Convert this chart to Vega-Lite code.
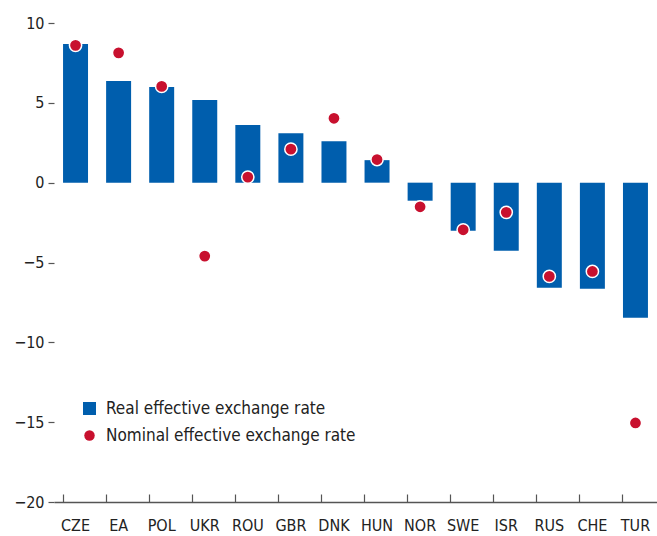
{
  "$schema": "https://vega.github.io/schema/vega-lite/v6.json",
  "width": 603,
  "height": 479,
  "autosize": {"type": "none"},
  "padding": {"left": 54, "top": 23, "right": 0, "bottom": 34},
  "background": "white",
  "config": {
    "view": {"stroke": null},
    "font": "DejaVu Sans Condensed, Liberation Sans, sans-serif",
    "axis": {"grid": false, "labelFont": "DejaVu Sans Condensed, Liberation Sans, sans-serif", "labelColor": "#222", "labelFontSize": 16, "tickColor": "#555", "domainColor": "#555"},
    "legend": {"labelFont": "DejaVu Sans Condensed, Liberation Sans, sans-serif"}
  },
  "data": {
    "values": [
      {"country": "CZE", "real": 8.68, "nominal": 8.6},
      {"country": "EA", "real": 6.36, "nominal": 8.13},
      {"country": "POL", "real": 5.99, "nominal": 6.03},
      {"country": "UKR", "real": 5.17, "nominal": -4.6},
      {"country": "ROU", "real": 3.61, "nominal": 0.35},
      {"country": "GBR", "real": 3.1, "nominal": 2.1},
      {"country": "DNK", "real": 2.6, "nominal": 4.03},
      {"country": "HUN", "real": 1.41, "nominal": 1.45},
      {"country": "NOR", "real": -1.13, "nominal": -1.51},
      {"country": "SWE", "real": -3.01, "nominal": -2.95},
      {"country": "ISR", "real": -4.26, "nominal": -1.86},
      {"country": "RUS", "real": -6.58, "nominal": -5.87},
      {"country": "CHE", "real": -6.64, "nominal": -5.56},
      {"country": "TUR", "real": -8.46, "nominal": -15.05}
    ]
  },
  "encoding": {
    "x": {
      "field": "country",
      "type": "nominal",
      "sort": null,
      "scale": {"paddingInner": 0.42, "paddingOuter": 0.21},
      "axis": {"title": null, "labelAngle": 0, "bandPosition": 0, "tickSize": -8, "labelPadding": 23, "domainWidth": 1.5, "tickWidth": 1.2}
    }
  },
  "layer": [
    {
      "mark": {"type": "bar"},
      "encoding": {
        "y": {
          "field": "real",
          "type": "quantitative",
          "scale": {"domain": [-20, 10], "nice": false, "zero": false},
          "axis": {"title": null, "values": [-20, -15, -10, -5, 0, 5, 10], "domain": false, "tickSize": 6, "labelPadding": 4, "tickWidth": 1.2}
        },
        "color": {
          "datum": "Real effective exchange rate",
          "scale": {"domain": ["Real effective exchange rate", "Nominal effective exchange rate"], "range": ["#005EAD", "#C8102E"]},
          "legend": {
            "title": null,
            "orient": "none",
            "legendX": 27,
            "legendY": 377,
            "labelFontSize": 17,
            "labelLimit": 400,
            "labelColor": "#222",
            "symbolSize": 170,
            "symbolStrokeWidth": 0,
            "rowPadding": 9,
            "labelOffset": 8,
            "encode": {
              "symbols": {"update": {"shape": {"signal": "datum.value === 'Real effective exchange rate' ? 'square' : 'circle'"}, "size": {"signal": "datum.value === 'Real effective exchange rate' ? 170 : 110"}, "fillOpacity": {"value": 1}}}
            }
          }
        }
      }
    },
    {
      "mark": {"type": "rule", "color": "#8a8a8a", "strokeWidth": 2},
      "encoding": {"y": {"datum": 0}}
    },
    {
      "mark": {"type": "point", "filled": true, "size": 150, "stroke": "white", "strokeWidth": 1.5, "opacity": 1},
      "encoding": {
        "y": {"field": "nominal", "type": "quantitative"},
        "color": {"datum": "Nominal effective exchange rate"}
      }
    }
  ]
}
